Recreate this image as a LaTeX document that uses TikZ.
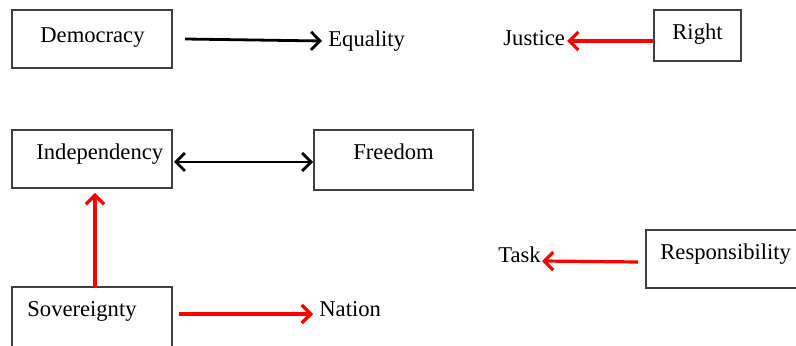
\documentclass[tikz,border=0pt]{standalone}
\usepackage{fontspec}
\setmainfont{Liberation Serif}
\usetikzlibrary{arrows.meta}
\definecolor{boxgray}{HTML}{404040}
\definecolor{arrred}{HTML}{FF0000}
\tikzset{
  box/.style={draw=boxgray, line width=0.6pt, inner sep=0pt, rectangle},
  lbl/.style={inner sep=0pt, anchor=base west, font=\fontsize{11.3pt}{13pt}\selectfont},
  blk/.style={draw=black, line width=1.4pt, -{Straight Barb[length=4.5pt,width=9pt,line width=1.4pt]}},
  blkboth/.style={draw=black, line width=1.4pt, {Straight Barb[length=4.5pt,width=9pt,line width=1.4pt]}-{Straight Barb[length=4.5pt,width=9pt,line width=1.4pt]}},
  red/.style={draw=arrred, line width=1.6pt, -{Straight Barb[length=4.5pt,width=9pt,line width=1.6pt]}},
}
\begin{document}
\begin{tikzpicture}[x=0.5pt,y=-0.5pt]
\useasboundingbox (0,0) rectangle (796,346);
\clip (0,0) rectangle (796,346);
% boxes
\node[box, minimum width=80pt, minimum height=29pt] (dem) at (92,39) {};
\node[box, minimum width=43.5pt, minimum height=25.5pt] (right) at (697.5,35.5) {};
\node[box, minimum width=80pt, minimum height=29pt] (indep) at (92,159) {};
\node[box, minimum width=79.5pt, minimum height=30pt] (free) at (393.5,160) {};
\node[box, minimum width=80pt, minimum height=31pt] (sov) at (92,318) {};
\node[box, minimum width=77pt, minimum height=29pt] (resp) at (723,259) {};
% texts
\node[lbl] (tdem) at (40,43) {Democracy};
\node[lbl] (teq) at (328,47) {Equality};
\node[lbl] (tjus) at (503,46) {Justice};
\node[lbl] (tright) at (672,40) {Right};
\node[lbl] (tindep) at (36,160) {Independency};
\node[lbl] (tfree) at (353,160) {Freedom};
\node[lbl] (tsov) at (27,317) {Sovereignty};
\node[lbl] (tnat) at (319,317) {Nation};
\node[lbl] (ttask) at (498,263) {Task};
\node[lbl] (tresp) at (660,260) {Responsibility};
% connector end points
\coordinate (a1s) at (185,39);
\coordinate (a1e) at (322,41);
\coordinate (a2s) at (654,41);
\coordinate (a2e) at (567,41);
\coordinate (a3s) at (174,162);
\coordinate (a3e) at (313,162);
\coordinate (a4s) at (95,288);
\coordinate (a4e) at (95,193);
\coordinate (a5s) at (179,314);
\coordinate (a5e) at (313,314);
\coordinate (a6s) at (638,262);
\coordinate (a6e) at (542,261);
% connectors
\draw[blk] (a1s) -- (a1e);
\draw[red] (a2s) -- (a2e);
\draw[blkboth] (a3s) -- (a3e);
\draw[red] (a4s) -- (a4e);
\draw[red] (a5s) -- (a5e);
\draw[red] (a6s) -- (a6e);
\end{tikzpicture}
\end{document}
